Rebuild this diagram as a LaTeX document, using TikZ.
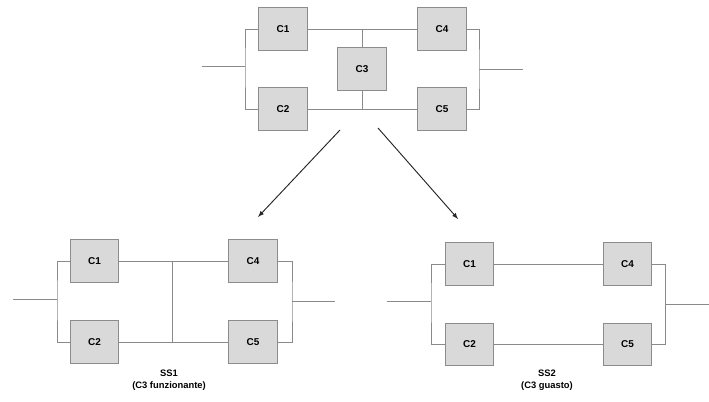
\documentclass[tikz,border=0pt]{standalone}
\usepackage{fontspec}
\setmainfont{Liberation Sans}
\usetikzlibrary{arrows,positioning}
\definecolor{boxfill}{HTML}{D9D9D9}
\definecolor{boxline}{HTML}{8C8C8C}
\definecolor{wiregray}{HTML}{8A8A8A}
\definecolor{arrowdark}{HTML}{262626}
\begin{document}
\begin{tikzpicture}[x=0.03cm,y=-0.03cm]
\tikzstyle{block} = [rectangle, draw=boxline, fill=boxfill, line width=0.6pt,
minimum width=1.45cm, minimum height=1.27cm, inner sep=0pt,
font=\fontsize{8.5}{10}\selectfont\bfseries]
\tikzstyle{wire} = [draw=wiregray, line width=0.6pt];
\tikzstyle{line} = [draw=arrowdark, line width=0.8pt, ->, >=latex];
\tikzstyle{caption} = [align=center, inner sep=0pt,
font=\fontsize{8}{10.2}\selectfont\bfseries];
\useasboundingbox (0,0) rectangle (709,402);
% original system
\node [block] (t1) at (283,29) {C1};
\node [block] (t2) at (283,109) {C2};
\node [block] (t3) at (362,69) {C3};
\node [block] (t4) at (442,29) {C4};
\node [block] (t5) at (442,109) {C5};
\coordinate (tin) at (202,66);
\coordinate (tl) at (245,66);
\coordinate (tr) at (479,69);
\coordinate (tout) at (523,69);
\path [wire] (tin) -- (tl);
\path [wire] (t1.west) -| (tl) |- (t2.west);
\path [wire] (t1.east) -- (t4.west);
\path [wire] (t2.east) -- (t5.west);
\path [wire] (t3.north) -- (t3.north |- t1.east);
\path [wire] (t3.south) -- (t3.south |- t2.east);
\path [wire] (t4.east) -| (tr) |- (t5.east);
\path [wire] (tr) -- (tout);
% arrows
\coordinate (fromA) at (340,130);
\coordinate (toA) at (258,217);
\coordinate (fromB) at (378,128);
\coordinate (toB) at (458,219);
\path [line] (fromA) -- (toA);
\path [line] (fromB) -- (toB);
% SS1
\node [block] (a1) at (94.5,261) {C1};
\node [block] (a2) at (94.5,342) {C2};
\node [block] (a4) at (253,261) {C4};
\node [block] (a5) at (253,342) {C5};
\coordinate (ain) at (13,299);
\coordinate (al) at (57,299);
\coordinate (am) at (172,301);
\coordinate (ar) at (292,301);
\coordinate (aout) at (335,301);
\path [wire] (ain) -- (al);
\path [wire] (a1.west) -| (al) |- (a2.west);
\path [wire] (a1.east) -- (a4.west);
\path [wire] (a2.east) -- (a5.west);
\path [wire] (am |- a1.east) -- (am |- a2.east);
\path [wire] (a4.east) -| (ar) |- (a5.east);
\path [wire] (ar) -- (aout);
\node [caption] (acap) at (169,380) {SS1\\(C3 funzionante)};
% SS2
\node [block] (b1) at (469.5,264) {C1};
\node [block] (b2) at (469.5,344.5) {C2};
\node [block] (b4) at (627.5,264) {C4};
\node [block] (b5) at (627.5,344.5) {C5};
\coordinate (bin) at (387,301);
\coordinate (bl) at (431,301);
\coordinate (br) at (665,304);
\coordinate (bout) at (709,304);
\path [wire] (bin) -- (bl);
\path [wire] (b1.west) -| (bl) |- (b2.west);
\path [wire] (b1.east) -- (b4.west);
\path [wire] (b2.east) -- (b5.west);
\path [wire] (b4.east) -| (br) |- (b5.east);
\path [wire] (br) -- (bout);
\node [caption] (bcap) at (547,380) {SS2\\(C3 guasto)};
\end{tikzpicture}
\end{document}
